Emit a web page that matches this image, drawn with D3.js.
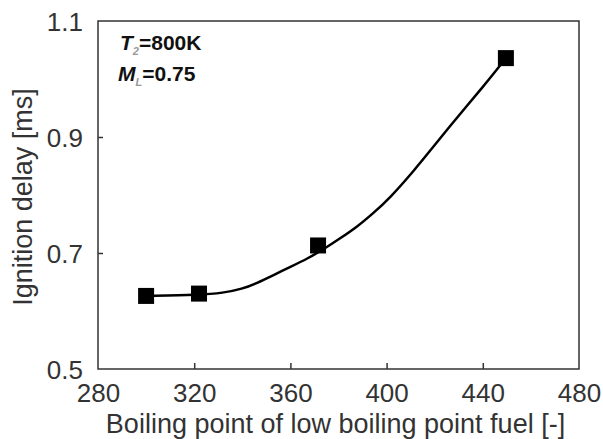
<!DOCTYPE html>
<html>
<head>
<meta charset="utf-8">
<script src="https://cdn.jsdelivr.net/npm/d3@7"></script>
<style>
    body { margin: 0; background: #fff; }
    text { font-family: "Liberation Sans", Arial, sans-serif; }
</style>
</head>
<body>
<svg id="chart" width="603" height="439"></svg>
<script>
const svg = d3.select("#chart"),
    margin = { top: 21, right: 24, bottom: 70, left: 98 },
    width = +svg.attr("width") - margin.left - margin.right,
    height = +svg.attr("height") - margin.top - margin.bottom;

// Measured points
const boilingPoints = [300, 322, 371.5, 449.6];
const ignitionDelays = [0.626, 0.630, 0.713, 1.036];

// Fitted curve
const curveX = [300, 322, 332, 340, 346, 353, 360, 367, 374, 381, 388, 394, 401, 412, 419, 426, 433, 440, 446, 449.6];
const curveY = [0.626, 0.628, 0.631, 0.638, 0.648, 0.662, 0.676, 0.690, 0.707, 0.726, 0.746, 0.767, 0.793, 0.845, 0.881, 0.917, 0.952, 0.986, 1.017, 1.036];

// Axis ticks
const xTicks = [280, 320, 360, 400, 440, 480];
const yTicks = [0.5, 0.7, 0.9, 1.1];

const g = svg.append("g")
    .attr("transform", `translate(${margin.left},${margin.top})`);

const x = d3.scaleLinear().domain([280, 480]).range([0, width]);
const y = d3.scaleLinear().domain([0.5, 1.1]).range([height, 0]);

const axisColor = "#333";

// X axis (ticks pointing inward)
const xAxis = g.append("g")
    .attr("transform", `translate(0,${height})`)
    .call(d3.axisBottom(x).tickValues(xTicks).tickSize(-6).tickPadding(20).tickFormat(d3.format("d")));
xAxis.select(".domain").remove();
xAxis.selectAll("line").attr("stroke", axisColor).attr("stroke-width", 1.5)
    .filter(d => d === 280 || d === 480).remove();
xAxis.selectAll("text")
    .attr("fill", axisColor)
    .attr("font-size", 26)
    .attr("font-family", "Liberation Sans, Arial, sans-serif")
    .attr("dy", 0)
    .attr("y", 33);

// Y axis (ticks pointing inward)
const yAxis = g.append("g")
    .call(d3.axisLeft(y).tickValues(yTicks).tickSize(-5).tickPadding(15).tickFormat(d3.format(".1f")));
yAxis.select(".domain").remove();
yAxis.selectAll("line").attr("stroke", axisColor).attr("stroke-width", 1.5)
    .filter(d => d === 0.5 || d === 1.1).remove();
yAxis.selectAll("text")
    .attr("fill", axisColor)
    .attr("font-size", 26)
    .attr("font-family", "Liberation Sans, Arial, sans-serif")
    .attr("dy", "0.35em");

// Plot frame
g.append("rect")
    .attr("width", width)
    .attr("height", height)
    .attr("fill", "none")
    .attr("stroke", axisColor)
    .attr("stroke-width", 1.5);

// Axis titles
svg.append("text")
    .attr("x", margin.left + width / 2 - 3)
    .attr("y", 433)
    .attr("text-anchor", "middle")
    .attr("font-size", 27)
    .attr("fill", axisColor)
    .text("Boiling point of low boiling point fuel [-]");

svg.append("text")
    .attr("transform", `translate(32,${margin.top + height / 2 + 2}) rotate(-90)`)
    .attr("text-anchor", "middle")
    .attr("font-size", 27)
    .attr("fill", axisColor)
    .text("Ignition delay [ms]");

// Fitted curve
const curveData = curveX.map((d, i) => ({ x: d, y: curveY[i] }));
g.append("path")
    .datum(curveData)
    .attr("fill", "none")
    .attr("stroke", "#000")
    .attr("stroke-width", 2.5)
    .attr("d", d3.line().x(d => x(d.x)).y(d => y(d.y)).curve(d3.curveBasis));

// Square markers
const s = 16;
g.selectAll("rect.pt")
    .data(boilingPoints.map((d, i) => ({ x: d, y: ignitionDelays[i] })))
    .enter()
    .append("rect")
    .attr("class", "pt")
    .attr("x", d => x(d.x) - s / 2)
    .attr("y", d => y(d.y) - s / 2)
    .attr("width", s)
    .attr("height", s)
    .attr("fill", "#000");

// Conditions annotation
const note = svg.append("g").attr("font-weight", "bold").attr("font-size", 21).attr("fill", "#111");
const l1 = note.append("text").attr("x", 120).attr("y", 50);
l1.append("tspan").attr("font-style", "italic").text("T");
l1.append("tspan").attr("font-style", "italic").attr("font-size", 11).attr("fill", "#999").attr("dy", 5).text("2");
l1.append("tspan").attr("dy", -5).text("=800K");
const l2 = note.append("text").attr("x", 118).attr("y", 81);
l2.append("tspan").attr("font-style", "italic").text("M");
l2.append("tspan").attr("font-style", "italic").attr("font-size", 11).attr("fill", "#999").attr("dy", 5).text("L");
l2.append("tspan").attr("dy", -5).text("=0.75");
</script>
</body>
</html>
